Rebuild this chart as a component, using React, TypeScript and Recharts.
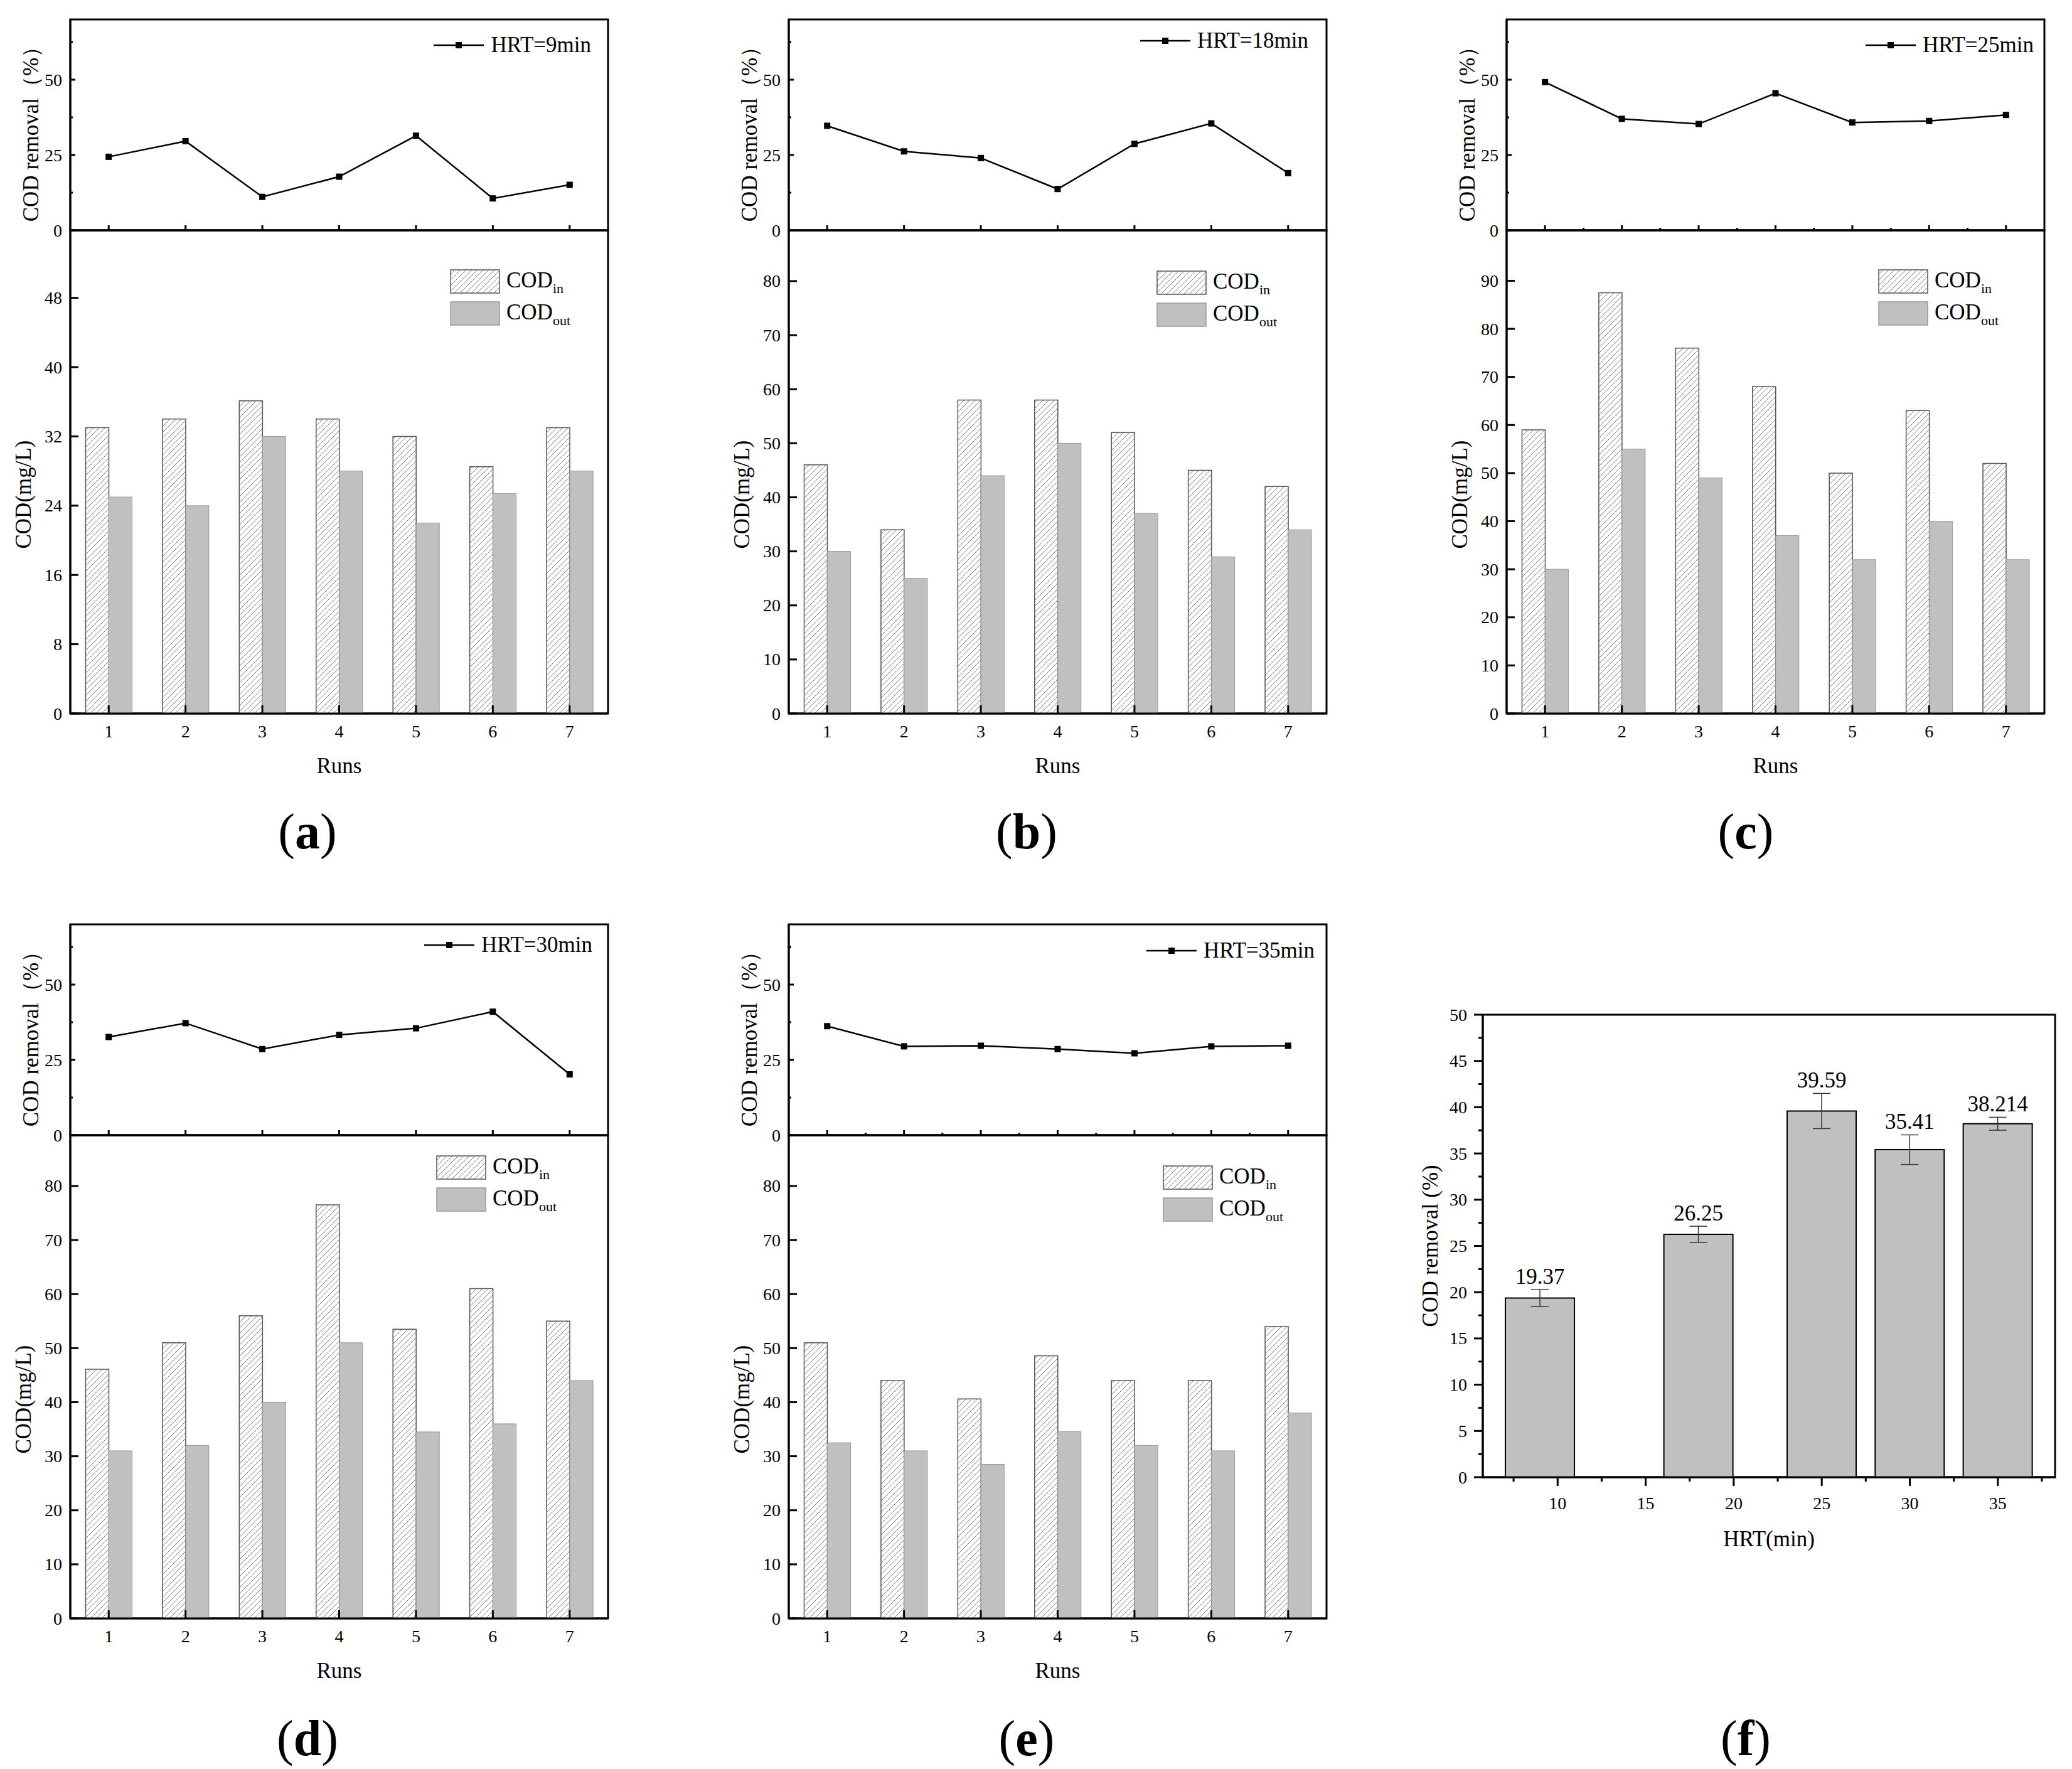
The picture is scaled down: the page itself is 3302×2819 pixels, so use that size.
import React from "react";
import {
	Bar,
	BarChart,
	ErrorBar,
	LabelList,
	Legend,
	Line,
	LineChart,
	ReferenceArea,
	XAxis,
	YAxis,
} from "recharts";

const FONT = "'Liberation Serif', 'Times New Roman', serif";

// runs 1..7 shared by panels a-e
const runs = [1, 2, 3, 4, 5, 6, 7];
const runTicksMinor = [1, 1.5, 2, 2.5, 3, 3.5, 4, 4.5, 5, 5.5, 6, 6.5, 7];
const removalTicks = [0, 12.5, 25, 37.5, 50, 62.5];
const removalMajor = [0, 25, 50];
const ticksA = [0, 8, 16, 24, 32, 40, 48];
const ticks80 = [0, 10, 20, 30, 40, 50, 60, 70, 80];
const ticks90 = [0, 10, 20, 30, 40, 50, 60, 70, 80, 90];
const legendSubs = ["in", "out"];

const removalA = [24.4, 29.6, 11.1, 17.8, 31.4, 10.6, 15.1];
const codInA = [33, 34, 36.1, 34, 32, 28.5, 33];
const codOutA = [25, 24, 32, 28, 22, 25.4, 28];

const removalB = [34.7, 26.2, 24, 13.7, 28.7, 35.5, 19];
const codInB = [46, 34, 58, 58, 52, 45, 42];
const codOutB = [30, 25, 44, 50, 37, 29, 34];

const removalC = [49.2, 37, 35.3, 45.5, 35.8, 36.3, 38.3];
const codInC = [59, 87.5, 76, 68, 50, 63, 52];
const codOutC = [30, 55, 49, 37, 32, 40, 32];

const removalD = [32.6, 37.2, 28.6, 33.3, 35.5, 41, 20.2];
const codInD = [46.1, 51, 56, 76.5, 53.5, 61, 55];
const codOutD = [31, 32, 40, 51, 34.5, 36, 44];

const removalE = [36.2, 29.5, 29.7, 28.6, 27.2, 29.5, 29.7];
const codInE = [51, 44, 40.6, 48.6, 44, 44, 54];
const codOutE = [32.5, 31, 28.5, 34.6, 32, 31, 38];

// panel f
const hrtF = [9, 18, 25, 30, 35];
const removalF = [19.37, 26.25, 39.59, 35.41, 38.214];
const errF = [0.9, 0.88, 1.9, 1.6, 0.7];
const labelF = ["19.37", "26.25", "39.59", "35.41", "38.214"];
const hrtTicks = [7.5, 10, 12.5, 15, 17.5, 20, 22.5, 25, 27.5, 30, 32.5, 35, 37.5];
const hrtMajor = [10, 15, 20, 25, 30, 35];
const fYTicks = [0, 2.5, 5, 7.5, 10, 12.5, 15, 17.5, 20, 22.5, 25, 27.5, 30, 32.5, 35, 37.5, 40, 42.5, 45, 47.5, 50];

const PANELS = [
	{ key: "a", left: 112, top: 31, hrt: "HRT=9min", removal: removalA, codIn: codInA, codOut: codOutA, yMax: 55.8, yTicks: ticksA, minorX: false, lineRight: 27, lineCy: 41, barRight: 251, barTop: 64, tagX: 490, tagY: 1325 },
	{ key: "b", left: 1257, top: 31, hrt: "HRT=18min", removal: removalB, codIn: codInB, codOut: codOutB, yMax: 89.4, yTicks: ticks80, minorX: false, lineRight: 29, lineCy: 34, barRight: 270, barTop: 66, tagX: 1636, tagY: 1325 },
	{ key: "c", left: 2401, top: 31, hrt: "HRT=25min", removal: removalC, codIn: codInC, codOut: codOutC, yMax: 100.5, yTicks: ticks90, minorX: true, lineRight: 17, lineCy: 41, barRight: 264, barTop: 64, tagX: 2782, tagY: 1325 },
	{ key: "d", left: 112, top: 1473, hrt: "HRT=30min", removal: removalD, codIn: codInD, codOut: codOutD, yMax: 89.4, yTicks: ticks80, minorX: false, lineRight: 25, lineCy: 33, barRight: 273, barTop: 34, tagX: 490, tagY: 2770 },
	{ key: "e", left: 1257, top: 1473, hrt: "HRT=35min", removal: removalE, codIn: codInE, codOut: codOutE, yMax: 89.4, yTicks: ticks80, minorX: true, lineRight: 19, lineCy: 42, barRight: 260, barTop: 50, tagX: 1636, tagY: 2770 },
];

const PW = 857;
const TOP_H = 336;
const BOT_H = 770;
const YW = 110;
const MR = 20;
const TOP_XH = 24; // room below the line chart so the "0" label is not clipped
const axisLine = { stroke: "#000", strokeWidth: 3 };

const F_LEFT = 2363;
const F_TOP = 1617;
const F_W = 912;
const F_H = 737;
const FYW = 130;
const F_MT = 30;

const txt = { fontFamily: FONT, fill: "#000" };

function yTitle(text: string, dx: number, dy: number) {
	return {
		content: (props: any) => {
			const vb = props.viewBox || {};
			const cx = vb.x + vb.width - dx;
			const cy = vb.y + vb.height / 2 + dy;
			return (
				<text x={cx} y={cy} transform={`rotate(-90 ${cx} ${cy})`} textAnchor="middle" dominantBaseline="central" fontSize={35} {...txt}>
					{text}
				</text>
			);
		},
	};
}

function xTitle(text: string, dy: number) {
	return {
		content: (props: any) => {
			const vb = props.viewBox || {};
			return (
				<text x={vb.x + vb.width / 2} y={vb.y + dy} textAnchor="middle" dominantBaseline="central" fontSize={35} {...txt}>
					{text}
				</text>
			);
		},
	};
}

function InTick({ x, y, payload, major, len, minorLen }: any) {
	const isMajor = major.includes(payload.value);
	return (
		<g>
			<line x1={x} y1={y} x2={x + (isMajor ? len : minorLen)} y2={y} stroke="#000" strokeWidth={3} />
			{isMajor && (
				<text x={x - 13} y={y} textAnchor="end" dominantBaseline="central" fontSize={28} {...txt}>
					{payload.value}
				</text>
			)}
		</g>
	);
}

function TopRunTick({ x, y, payload }: any) {
	const major = Number.isInteger(payload.value);
	return <line x1={x} y1={y} x2={x} y2={y - (major ? 8 : 4)} stroke="#000" strokeWidth={3} />;
}

function RunTick({ x, y, payload }: any) {
	return (
		<g>
			<line x1={x} y1={y} x2={x} y2={y - 13} stroke="#000" strokeWidth={3} />
			<text x={x} y={y + 28} textAnchor="middle" dominantBaseline="central" fontSize={28} {...txt}>
				{payload.value}
			</text>
		</g>
	);
}

function OutYTick({ x, y, payload }: any) {
	const isMajor = payload.value % 5 === 0;
	return (
		<g>
			<line x1={x} y1={y} x2={x - (isMajor ? 14 : 7)} y2={y} stroke="#000" strokeWidth={3} />
			{isMajor && (
				<text x={x - 25} y={y} textAnchor="end" dominantBaseline="central" fontSize={28} {...txt}>
					{payload.value}
				</text>
			)}
		</g>
	);
}

function HrtTick({ x, y, payload }: any) {
	const isMajor = hrtMajor.includes(payload.value);
	return (
		<g>
			<line x1={x} y1={y} x2={x} y2={y + (isMajor ? 14 : 7)} stroke="#000" strokeWidth={3} />
			{isMajor && (
				<text x={x} y={y + 41} textAnchor="middle" dominantBaseline="central" fontSize={28} {...txt}>
					{payload.value}
				</text>
			)}
		</g>
	);
}

function SquareDot(props: any) {
	const { cx, cy } = props;
	if (cx == null || cy == null) return <g />;
	return <rect x={cx - 5} y={cy - 5} width={10} height={10} fill="#000" />;
}

function LineLegend({ text }: { text: string }) {
	return (
		<div style={{ display: "flex", alignItems: "center", fontFamily: FONT, fontSize: 35, lineHeight: "40px", color: "#000", whiteSpace: "nowrap" }}>
			<svg width={80} height={12}>
				<line x1={0} y1={6} x2={80} y2={6} stroke="#000" strokeWidth={2.5} />
				<rect x={35} y={1} width={10} height={10} fill="#000" />
			</svg>
			<span style={{ marginLeft: 11 }}>{text}</span>
		</div>
	);
}

function BarLegend({ hatchId }: { hatchId: string }) {
	const styles = [
		{ fill: `url(#${hatchId})`, stroke: "#555" },
		{ fill: "#c0c0c0", stroke: "#999" },
	];
	return (
		<div style={{ fontFamily: FONT, fontSize: 35, color: "#000", whiteSpace: "nowrap" }}>
			{legendSubs.map((sub, i) => (
				<div key={sub} style={{ display: "flex", alignItems: "center", height: 37, marginTop: i ? 14 : 0 }}>
					<svg width={80} height={39}>
						<rect x={1} y={1} width={78} height={37} fill={styles[i].fill} stroke={styles[i].stroke} strokeWidth={1.5} />
					</svg>
					<span style={{ marginLeft: 10, lineHeight: "37px" }}>
						COD
						<span style={{ fontSize: 22, position: "relative", top: 9 }}>{sub}</span>
					</span>
				</div>
			))}
		</div>
	);
}

function RunsPanel({ p }: { p: (typeof PANELS)[number] }) {
	const data = runs.map((run, i) => ({
		run,
		removal: p.removal[i],
		codIn: p.codIn[i],
		codOut: p.codOut[i],
	}));
	const W = YW + PW + MR;
	const hatchId = `hatch-${p.key}`;

	return (
		<>
			<div style={{ position: "absolute", left: p.left - YW, top: p.top - 10 }}>
				<LineChart width={W} height={10 + TOP_H + TOP_XH} data={data} margin={{ top: 10, right: MR, bottom: 0, left: 0 }}>
					<XAxis
						dataKey="run"
						type="number"
						domain={[0.5, 7.5]}
						ticks={p.minorX ? runTicksMinor : runs}
						interval={0}
						height={TOP_XH}
						tickSize={0}
						tickMargin={0}
						tickLine={false}
						axisLine={axisLine}
						tick={(t: any) => <TopRunTick {...t} />}
					/>
					<YAxis
						type="number"
						domain={[0, 70]}
						ticks={removalTicks}
						interval={0}
						width={YW}
						tickSize={0}
						tickMargin={0}
						tickLine={false}
						axisLine={axisLine}
						tick={(t: any) => <InTick {...t} major={removalMajor} len={8} minorLen={4} />}
						label={yTitle("COD removal（%）", 63, 6)}
					/>
					<Line dataKey="removal" type="linear" stroke="#000" strokeWidth={2.5} dot={<SquareDot />} isAnimationActive={false} />
					<ReferenceArea x1={0.5} x2={7.5} y1={0} y2={70} fill="none" stroke="#000" strokeWidth={3} />
					<Legend
						layout="vertical"
						align="center"
						verticalAlign="middle"
						wrapperStyle={{ left: "auto", right: MR + p.lineRight, top: 10 + p.lineCy - 20, width: "auto" }}
						content={() => <LineLegend text={p.hrt} />}
					/>
				</LineChart>
			</div>
			<div style={{ position: "absolute", left: p.left - YW, top: p.top + TOP_H - 6 }}>
				<BarChart
					width={W}
					height={6 + BOT_H + 130}
					data={data}
					margin={{ top: 6, right: MR, bottom: 0, left: 0 }}
					barCategoryGap="20%"
					barGap={0}
				>
					<defs>
						<pattern id={hatchId} patternUnits="userSpaceOnUse" width={9} height={9}>
							<rect width={9} height={9} fill="#fff" />
							<path d="M0,9 L9,0 M-2,2 L2,-2 M7,11 L11,7" stroke="#808080" strokeWidth={1} />
						</pattern>
					</defs>
					<XAxis
						dataKey="run"
						interval={0}
						height={130}
						tickSize={0}
						tickMargin={0}
						tickLine={false}
						axisLine={axisLine}
						tick={(t: any) => <RunTick {...t} />}
						label={xTitle("Runs", 83)}
					/>
					<YAxis
						type="number"
						domain={[0, p.yMax]}
						allowDataOverflow
						ticks={p.yTicks}
						interval={0}
						width={YW}
						tickSize={0}
						tickMargin={0}
						tickLine={false}
						axisLine={axisLine}
						tick={(t: any) => <InTick {...t} major={p.yTicks} len={13} minorLen={13} />}
						label={yTitle("COD(mg/L)", 75, 36)}
					/>
					<Bar dataKey="codIn" fill={`url(#${hatchId})`} stroke="#555" strokeWidth={1.5} isAnimationActive={false} />
					<Bar dataKey="codOut" fill="#c0c0c0" stroke="#999" strokeWidth={1} isAnimationActive={false} />
					<ReferenceArea x1={1} x2={7} y1={0} y2={p.yMax} fill="none" stroke="#000" strokeWidth={3} />
					<Legend
						layout="vertical"
						align="center"
						verticalAlign="middle"
						wrapperStyle={{ left: YW + PW - p.barRight - 1, right: "auto", top: 6 + p.barTop - 1, width: "auto" }}
						content={() => <BarLegend hatchId={hatchId} />}
					/>
				</BarChart>
			</div>
			<div
				style={{
					position: "absolute",
					left: p.tagX,
					top: p.tagY,
					transform: "translate(-50%, -50%)",
					fontFamily: FONT,
					fontSize: 80,
					lineHeight: 1,
					color: "#000",
				}}
			>
				(<b>{p.key}</b>)
			</div>
		</>
	);
}

function ValueLabel(props: any) {
	const vb = props.viewBox && props.viewBox.width != null ? props.viewBox : props;
	const idx = props.index != null ? props.index : labelF.indexOf(props.value);
	const pxPerUnit = F_H / 50;
	const errTop = vb.y - errF[idx] * pxPerUnit;
	return (
		<text x={vb.x + vb.width / 2} y={errTop - 21} textAnchor="middle" dominantBaseline="central" fontSize={35} {...txt}>
			{props.value}
		</text>
	);
}

function RemovalPanel() {
	const data = hrtF.map((hrt, i) => ({
		hrt,
		removal: removalF[i],
		err: errF[i],
		label: labelF[i],
	}));

	return (
		<>
			<div style={{ position: "absolute", left: F_LEFT - FYW, top: F_TOP - F_MT }}>
				<BarChart width={FYW + F_W + 20} height={F_MT + F_H + 130} data={data} margin={{ top: F_MT, right: 20, bottom: 0, left: 0 }}>
					<XAxis
						dataKey="hrt"
						type="number"
						domain={[5.75, 38.25]}
						allowDataOverflow
						ticks={hrtTicks}
						interval={0}
						height={130}
						tickSize={0}
						tickMargin={0}
						tickLine={false}
						axisLine={axisLine}
						tick={(t: any) => <HrtTick {...t} />}
						label={xTitle("HRT(min)", 98)}
					/>
					<YAxis
						type="number"
						domain={[0, 50]}
						allowDataOverflow
						ticks={fYTicks}
						interval={0}
						width={FYW}
						tickSize={0}
						tickMargin={0}
						tickLine={false}
						axisLine={axisLine}
						tick={(t: any) => <OutYTick {...t} />}
						label={yTitle("COD removal (%)", 84, 0)}
					/>
					<Bar dataKey="removal" barSize={110} fill="#c0c0c0" stroke="#000" strokeWidth={2} isAnimationActive={false}>
						<ErrorBar dataKey="err" width={14} stroke="#333" strokeWidth={1.5} isAnimationActive={false} />
						<LabelList dataKey="label" content={(lp: any) => <ValueLabel {...lp} />} />
					</Bar>
					<ReferenceArea x1={5.75} x2={38.25} y1={0} y2={50} fill="none" stroke="#000" strokeWidth={3} />
				</BarChart>
			</div>
			<div
				style={{
					position: "absolute",
					left: 2782,
					top: 2770,
					transform: "translate(-50%, -50%)",
					fontFamily: FONT,
					fontSize: 80,
					lineHeight: 1,
					color: "#000",
				}}
			>
				(<b>f</b>)
			</div>
		</>
	);
}

export default function App() {
	return (
		<div
			style={{
				position: "relative",
				width: 3302,
				height: 2819,
				margin: "-8px 0 0 -8px",
				background: "#fff",
				fontFamily: FONT,
				overflow: "hidden",
			}}
		>
			{PANELS.map((p) => (
				<RunsPanel key={p.key} p={p} />
			))}
			<RemovalPanel />
		</div>
	);
}
